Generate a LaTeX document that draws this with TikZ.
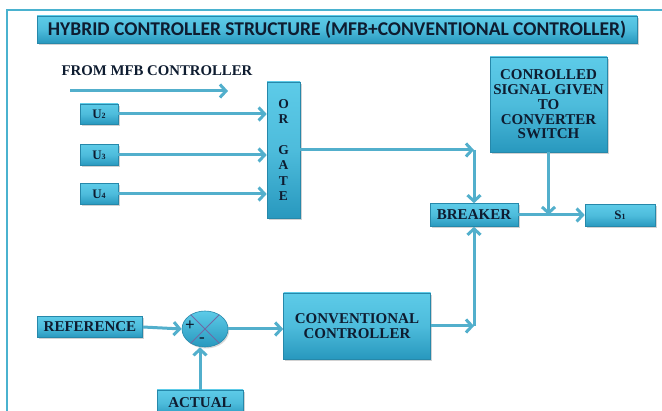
\documentclass[tikz,border=0pt]{standalone}
\usepackage{fontspec}
\setmainfont{Liberation Serif}
\newfontfamily\titlefont{Carlito}
\usetikzlibrary{arrows.meta,shapes.geometric,shadows,calc}
\definecolor{boxtop}{HTML}{5DCBE8}
\definecolor{boxbot}{HTML}{2898BE}
\definecolor{boxedge}{HTML}{2688AA}
\definecolor{wire}{HTML}{52AFCC}
\definecolor{ink}{HTML}{0E1C30}
\definecolor{frame}{HTML}{4AB2CF}
\definecolor{cross}{HTML}{6E6AA6}
\tikzset{
  blockbox/.style={rectangle, draw=boxedge, line width=0.6pt,
    top color=boxtop, bottom color=boxbot, middle color=boxtop!70!boxbot,
    text=ink, font=\bfseries\fontsize{15}{14.8}\selectfont, align=center,
    inner sep=0pt, drop shadow={opacity=0.35, shadow xshift=1.5pt, shadow yshift=-1.8pt}},
  sumnode/.style={ellipse, draw=boxedge, line width=0.6pt,
    top color=boxtop, bottom color=boxbot, inner sep=0pt,
    minimum width=46pt, minimum height=36pt,
    drop shadow={opacity=0.3, shadow xshift=1.2pt, shadow yshift=-1.5pt}},
  smallbox/.style={blockbox, font=\bfseries\fontsize{13}{13}\selectfont},
  sig/.style={draw=wire, line width=3pt,
    -{Straight Barb[length=6pt,width=13pt,line width=3pt]}},
}
\newcommand{\lowdigit}[1]{{\fontsize{8}{8}\selectfont #1}}
\begin{document}
\begin{tikzpicture}[x=1pt,y=-1pt]
\useasboundingbox (0,0) rectangle (662,411);
\fill[white] (0,0) rectangle (662,411);
% outer frame
\draw[frame, line width=2pt] (7,415) -- (7,10) -- (666,10);

% title bar
\node[blockbox, minimum width=600pt, minimum height=27pt,
      font=\titlefont\bfseries\fontsize{19.5}{19.5}\selectfont] (title) at (337,29.5)
  {HYBRID CONTROLLER STRUCTURE (MFB+CONVENTIONAL CONTROLLER)};

% MFB inputs
\node[text=ink, font=\bfseries\fontsize{14.8}{14.8}\selectfont, inner sep=0pt] (mfb) at (157,71) {FROM MFB CONTROLLER};
\coordinate (mfbA) at (70,91);
\coordinate (mfbB) at (228,91);
\draw[sig] (mfbA) -- (mfbB);

\node[smallbox, minimum width=38pt, minimum height=20pt] (u2) at (99,114) {U\lowdigit{2}};
\node[smallbox, minimum width=38pt, minimum height=21pt] (u3) at (99,155) {U\lowdigit{3}};
\node[smallbox, minimum width=38pt, minimum height=21pt] (u4) at (99,194) {U\lowdigit{4}};

\node[blockbox, minimum width=33pt, minimum height=136pt, font=\bfseries\fontsize{13.5}{15.5}\selectfont] (or) at (283.5,150)
  {O\\R\\[15pt]G\\A\\T\\E};

\draw[sig] (u2.east) -- (u2.east -| or.west);
\draw[sig] (u3.east) -- (u3.east -| or.west);
\draw[sig] (u4.east) -- (u4.east -| or.west);

% breaker and switch side
\node[blockbox, minimum width=117pt, minimum height=95pt] (ctrl) at (548.5,104.5)
  {CONROLLED\\SIGNAL GIVEN\\TO\\CONVERTER\\SWITCH};
\node[blockbox, minimum width=88pt, minimum height=23pt] (breaker) at (474,215) {BREAKER};
\node[smallbox, minimum width=70pt, minimum height=22pt] (s1) at (620,215.5) {S\lowdigit{1}};

\coordinate (topturn) at (474,150);
\draw[sig] (or.east |- topturn) -- (topturn);
\draw[sig] (topturn) -- (breaker.north);
\draw[sig] (breaker.east) -- (breaker.east -| s1.west);
\draw[sig] (ctrl.south) -- (ctrl.south |- breaker.east);

% conventional loop
\node[blockbox, minimum width=105pt, minimum height=21pt] (ref) at (90,327) {REFERENCE};
\node[sumnode] (sum) at (205,329) {};
\draw[cross, line width=1pt] (sum.45) -- (sum.225) (sum.135) -- (sum.315);
\node[text=ink, font=\bfseries\fontsize{17}{17}\selectfont, inner sep=0pt] (plus) at (190,326) {+};
\node[text=ink, font=\bfseries\fontsize{17}{17}\selectfont, inner sep=0pt] (minus) at (202,340) {-};
\node[blockbox, minimum width=147pt, minimum height=66pt] (conv) at (357,326)
  {CONVENTIONAL\\CONTROLLER};
\node[blockbox, minimum width=86pt, minimum height=26pt] (actual) at (200,403) {ACTUAL};

\draw[sig] (ref.east) -- (sum.west);
\draw[sig] (sum.east) -- (sum.east -| conv.west);
\draw[sig] (actual.north) -- (actual.north |- sum.south);

\coordinate (botturn) at (474,326);
\draw[sig] (conv.east) -- (botturn);
\draw[sig] (botturn) -- (breaker.south);
\end{tikzpicture}
\end{document}
